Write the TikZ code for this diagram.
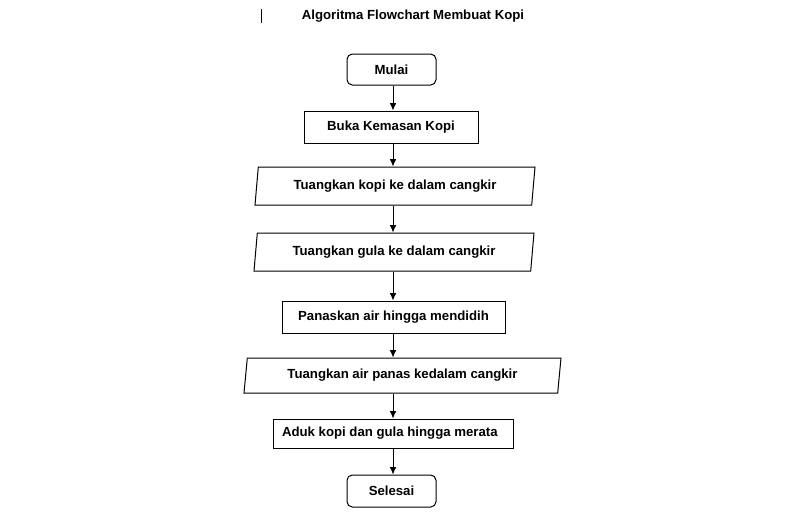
\documentclass[tikz,border=0pt]{standalone}
\usepackage{fontspec}
\setmainfont{Liberation Sans}
\usetikzlibrary{shapes.geometric,arrows.meta}

\begin{document}
\begin{tikzpicture}[x=0.75pt,y=-0.75pt,
  every node/.style={font=\bfseries\fontsize{9.9}{11.5}\selectfont},
  proses/.style={draw,line width=0.75pt,inner sep=0pt},
  terminal/.style={proses,rounded corners=4pt,minimum width=89*0.75pt,minimum height=31*0.75pt},
  masukan/.style={proses,trapezium,trapezium left angle=75,trapezium right angle=105,trapezium stretches body=true},
  panah/.style={line width=0.75pt,-{Latex[length=5.5pt,width=5pt]}}]
\useasboundingbox (0,0) rectangle (792,519);
\draw [line width=0.75pt] (261,9) -- (261,23);
\node (judul) at (413,16) {Algoritma Flowchart Membuat Kopi};
\node [terminal] (mulai) at (391.5,69.5) {Mulai};
\node [proses,minimum width=174*0.75pt,minimum height=32*0.75pt] (buka) at (391,127) {Buka Kemasan Kopi};
\node [masukan,minimum width=280*0.75pt,minimum height=38*0.75pt] (kopi) at (395,186) {Tuangkan kopi ke dalam cangkir};
\node [masukan,minimum width=280*0.75pt,minimum height=38*0.75pt] (gula) at (394,252) {Tuangkan gula ke dalam cangkir};
\node [proses,minimum width=223*0.75pt,minimum height=32*0.75pt] (panas) at (393.5,317) {Panaskan air hingga mendidih};
\node [masukan,minimum width=317*0.75pt,minimum height=35*0.75pt] (air) at (402.5,375.5) {Tuangkan air panas kedalam cangkir};
\node [proses,minimum height=29*0.75pt,text width=222*0.75pt,inner xsep=9*0.75pt,align=flush left] (aduk) at (393,433.5) {Aduk kopi dan gula hingga merata};
\node [terminal,minimum height=32*0.75pt] (selesai) at (391.5,491) {Selesai};
\coordinate (garis) at (393,0);
\draw [panah] (mulai.south -| garis) -- (buka.north -| garis);
\draw [panah] (buka.south -| garis) -- (kopi.north -| garis);
\draw [panah] (kopi.south -| garis) -- (gula.north -| garis);
\draw [panah] (gula.south -| garis) -- (panas.north -| garis);
\draw [panah] (panas.south -| garis) -- (air.north -| garis);
\draw [panah] (air.south -| garis) -- (aduk.north -| garis);
\draw [panah] (aduk.south -| garis) -- (selesai.north -| garis);
\end{tikzpicture}
\end{document}
